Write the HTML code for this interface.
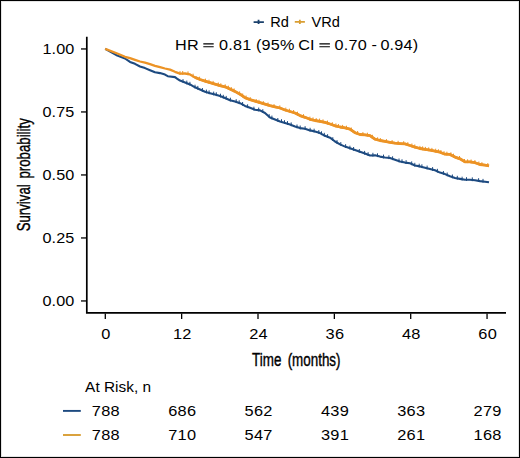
<!DOCTYPE html>
<html><head><meta charset="utf-8"><style>
html,body{margin:0;padding:0;background:#fff;}
.wrap{position:relative;width:520px;height:458px;box-sizing:border-box;border:1px solid #000;overflow:hidden;background:#fff;box-shadow:inset 0 0 0 1px #e4e4e4;}
svg{position:absolute;left:-1px;top:-1px;}
.t{font-family:"Liberation Sans",sans-serif;font-size:14.6px;fill:#000;}
.ty{font-family:"Liberation Sans",sans-serif;font-size:15.3px;letter-spacing:0.1px;fill:#000;}
.tx{font-family:"Liberation Sans",sans-serif;font-size:15.1px;letter-spacing:0.15px;fill:#000;}
.th{font-family:"Liberation Sans",sans-serif;font-size:15.3px;letter-spacing:0.2px;fill:#000;}
.tr{font-family:"Liberation Sans",sans-serif;font-size:15.3px;letter-spacing:0.25px;fill:#000;}
.ta{font-family:"Liberation Sans",sans-serif;font-size:14.9px;fill:#000;}
.ti{font-family:"Liberation Sans",sans-serif;font-size:18.5px;fill:#000;stroke:#000;stroke-width:0.4px;}
</style></head><body><div class="wrap">
<svg width="520" height="458" viewBox="0 0 520 458">
<path d="M86.8,36.8 V312.9 H506" fill="none" stroke="#000" stroke-width="1.7"/>
<path d="M81,48.95 H86" stroke="#000" stroke-width="1.3"/>
<path d="M81,111.95 H86" stroke="#000" stroke-width="1.3"/>
<path d="M81,174.95 H86" stroke="#000" stroke-width="1.3"/>
<path d="M81,237.95 H86" stroke="#000" stroke-width="1.3"/>
<path d="M81,300.95 H86" stroke="#000" stroke-width="1.3"/>
<path d="M105.30,313.5 V319" stroke="#000" stroke-width="1.3"/>
<path d="M181.65,313.5 V319" stroke="#000" stroke-width="1.3"/>
<path d="M258.00,313.5 V319" stroke="#000" stroke-width="1.3"/>
<path d="M334.35,313.5 V319" stroke="#000" stroke-width="1.3"/>
<path d="M410.70,313.5 V319" stroke="#000" stroke-width="1.3"/>
<path d="M487.05,313.5 V319" stroke="#000" stroke-width="1.3"/>
<text transform="translate(74.4,53.95) scale(1.06,1)" text-anchor="end" class="ty">1.00</text>
<text transform="translate(74.4,116.95) scale(1.06,1)" text-anchor="end" class="ty">0.75</text>
<text transform="translate(74.4,179.95) scale(1.06,1)" text-anchor="end" class="ty">0.50</text>
<text transform="translate(74.4,242.95) scale(1.06,1)" text-anchor="end" class="ty">0.25</text>
<text transform="translate(74.4,305.95) scale(1.06,1)" text-anchor="end" class="ty">0.00</text>
<text transform="translate(105.90,338.8) scale(1.07,1)" text-anchor="middle" class="tr">0</text>
<text transform="translate(182.25,338.8) scale(1.07,1)" text-anchor="middle" class="tr">12</text>
<text transform="translate(258.60,338.8) scale(1.07,1)" text-anchor="middle" class="tr">24</text>
<text transform="translate(334.95,338.8) scale(1.07,1)" text-anchor="middle" class="tr">36</text>
<text transform="translate(411.30,338.8) scale(1.07,1)" text-anchor="middle" class="tr">48</text>
<text transform="translate(487.65,338.8) scale(1.07,1)" text-anchor="middle" class="tr">60</text>
<polyline points="105.2,48.9 117.3,55.6 125.0,58.5 130.0,61.9 135.0,63.8 140.0,66.5 145.0,68.1 150.0,70.2 155.0,72.3 160.0,73.1 165.0,74.6 167.7,76.2 175.0,77.1 177.0,78.6 180.0,80.6 185.0,82.5 190.0,84.4 195.0,87.3 200.0,89.5 205.0,91.8 210.0,93.2 215.0,94.5 220.0,96.1 225.0,98.0 230.0,100.2 235.0,101.4 240.0,103.2 245.0,105.9 250.0,107.8 255.0,109.7 260.0,110.4 265.0,113.0 270.0,117.5 275.0,119.5 280.0,121.4 285.0,122.9 290.0,124.5 295.0,126.4 300.0,128.1 305.0,128.8 310.0,130.4 315.0,131.5 320.0,133.1 325.0,135.8 330.0,137.7 335.0,141.5 340.0,144.4 345.0,146.6 350.0,148.3 355.0,150.1 360.0,151.8 365.0,153.6 370.0,155.5 375.0,155.3 380.0,156.6 385.0,157.5 390.0,158.0 395.0,159.7 400.0,161.4 405.0,162.6 410.0,163.3 415.0,165.5 420.0,166.4 425.0,167.7 430.0,169.0 435.0,170.3 440.0,172.6 445.0,174.1 450.0,176.3 455.0,178.0 460.0,178.9 465.0,179.8 470.0,179.8 475.0,180.2 480.0,181.1 485.0,181.7 489.0,182.3" fill="none" stroke="#1d4a80" stroke-width="2.1" stroke-linejoin="round" stroke-linecap="butt"/>
<path d="M183.0,79.1V82.9M186.8,80.6V84.4M189.9,81.8V85.6M195.0,84.7V88.5M197.8,85.9V89.7M202.4,88.0V91.8M206.4,89.6V93.4M209.1,90.4V94.2M213.7,91.6V95.4M216.3,92.3V96.1M220.5,93.7V97.5M223.3,94.8V98.6M226.2,95.9V99.7M230.4,97.7V101.5M236.2,99.2V103.0M239.2,100.3V104.1M242.6,102.0V105.8M247.6,104.3V108.1M253.9,106.7V110.5M258.7,107.6V111.4M262.8,109.2V113.0M269.2,114.2V118.0M271.9,115.6V119.4M277.8,118.0V121.8M281.5,119.2V123.0M284.5,120.2V124.0M287.5,121.1V124.9M291.2,122.4V126.2M297.0,124.5V128.3M300.2,125.5V129.3M305.1,126.2V130.0M310.1,127.8V131.6M314.1,128.7V132.5M318.8,130.1V133.9M321.5,131.3V135.1M324.3,132.8V136.6M327.6,134.2V138.0M332.8,137.2V141.0M337.0,140.1V143.9M340.8,142.1V145.9M345.6,144.2V148.0M349.9,145.7V149.5M353.6,147.0V150.8M359.3,149.0V152.8M364.6,150.9V154.7M368.1,152.2V156.0M372.9,152.8V156.6M377.5,153.3V157.1M383.5,154.6V158.4M388.9,155.3V159.1M392.6,156.3V160.1M399.0,158.5V162.3M402.0,159.3V163.1M406.1,160.2V164.0M411.7,161.4V165.2M414.8,162.8V166.6M419.2,163.7V167.5M421.9,164.3V168.1M427.1,165.6V169.4M432.6,167.1V170.9M437.4,168.8V172.6M443.4,171.0V174.8M447.2,172.5V176.3M452.4,174.5V178.3M457.3,175.8V179.6M462.1,176.7V180.5M466.5,177.2V181.0M472.3,177.4V181.2M478.6,178.2V182.0M483.0,178.9V182.7" stroke="#1d4a80" stroke-width="1" fill="none"/>
<polyline points="105.2,48.9 117.3,53.5 125.0,56.8 130.0,58.1 135.0,59.8 140.0,61.5 145.0,62.7 150.0,64.2 155.0,65.8 160.0,67.2 165.0,68.5 170.0,69.6 175.0,71.8 180.0,73.7 185.0,73.5 190.0,74.4 195.0,77.4 200.0,79.5 205.0,81.1 210.0,82.6 215.0,84.1 220.0,85.7 225.0,86.8 230.0,89.1 235.0,91.4 240.0,94.2 245.0,97.7 250.0,99.6 255.0,101.2 260.0,102.7 265.0,104.2 270.0,105.7 275.0,106.9 280.0,108.0 285.0,110.0 290.0,111.5 295.0,113.0 300.0,115.6 305.0,117.3 310.0,119.3 315.0,120.5 320.0,121.3 325.0,122.4 330.0,124.0 335.0,125.8 340.0,127.0 345.0,127.9 350.0,129.2 355.0,132.7 360.0,134.5 365.0,134.9 370.0,135.7 375.0,139.2 380.0,140.5 385.0,141.4 390.0,142.3 395.0,143.2 400.0,143.6 405.0,143.9 410.0,145.5 415.0,147.2 420.0,148.5 425.0,149.4 430.0,150.2 435.0,151.1 440.0,152.2 445.0,154.2 450.0,154.4 455.0,157.1 460.0,158.8 465.0,161.9 470.0,161.9 475.0,162.7 480.0,164.5 485.0,165.2 489.0,165.9" fill="none" stroke="#ec9325" stroke-width="2.3" stroke-linejoin="round" stroke-linecap="butt"/>
<polyline points="195.0,77.4 200.0,79.5 205.0,81.1 210.0,82.6 215.0,84.1 220.0,85.7 225.0,86.8 230.0,89.1 235.0,91.4 240.0,94.2 245.0,97.7 250.0,99.6 255.0,101.2 260.0,102.7 265.0,104.2 270.0,105.7 275.0,106.9 280.0,108.0 285.0,110.0 290.0,111.5 295.0,113.0 300.0,115.6 305.0,117.3 310.0,119.3 315.0,120.5 320.0,121.3 325.0,122.4 330.0,124.0 335.0,125.8 340.0,127.0 345.0,127.9 350.0,129.2 355.0,132.7 360.0,134.5 365.0,134.9 370.0,135.7 375.0,139.2 380.0,140.5 385.0,141.4 390.0,142.3 395.0,143.2 400.0,143.6 405.0,143.9 410.0,145.5 415.0,147.2 420.0,148.5 425.0,149.4 430.0,150.2 435.0,151.1 440.0,152.2 445.0,154.2 450.0,154.4 455.0,157.1 460.0,158.8 465.0,161.9 470.0,161.9 475.0,162.7 480.0,164.5 485.0,165.2 489.0,165.9" fill="none" stroke="#ec9325" stroke-width="2.8" stroke-linejoin="round" stroke-linecap="butt"/>
<path d="M180.0,71.1V74.9M182.7,71.0V74.8M188.0,71.4V75.2M193.1,73.7V77.5M199.6,76.7V80.5M205.4,78.6V82.4M209.0,79.7V83.5M213.1,80.9V84.7M218.3,82.5V86.3M220.8,83.3V87.1M225.2,84.3V88.1M228.4,85.7V89.5M231.3,87.1V90.9M234.1,88.4V92.2M239.6,91.4V95.2M242.7,93.5V97.3M246.1,95.5V99.3M250.2,97.1V100.9M256.2,99.0V102.8M259.0,99.8V103.6M263.3,101.1V104.9M268.0,102.5V106.3M274.0,104.1V107.9M279.8,105.4V109.2M285.8,107.6V111.4M289.4,108.7V112.5M293.6,110.0V113.8M297.5,111.7V115.5M303.5,114.2V118.0M309.9,116.6V120.4M313.0,117.4V121.2M316.2,118.1V121.9M319.6,118.6V122.4M323.0,119.4V123.2M327.5,120.6V124.4M332.3,122.2V126.0M335.9,123.4V127.2M338.4,124.0V127.8M342.6,124.9V128.7M346.5,125.7V129.5M351.3,127.5V131.3M357.6,131.0V134.8M362.9,132.1V135.9M367.4,132.7V136.5M372.4,134.8V138.6M377.6,137.3V141.1M380.3,138.0V141.8M386.4,139.1V142.9M392.1,140.1V143.9M398.1,140.8V144.6M403.7,141.2V145.0M407.8,142.2V146.0M411.9,143.5V147.3M414.8,144.5V148.3M419.9,145.9V149.7M422.6,146.4V150.2M425.4,146.9V150.7M428.7,147.4V151.2M431.9,147.9V151.7M435.7,148.7V152.5M438.4,149.3V153.1M440.9,150.0V153.8M444.0,151.2V155.0M446.9,151.7V155.5M450.9,152.3V156.1M453.5,153.7V157.5M459.5,156.0V159.8M464.5,159.0V162.8M467.6,159.3V163.1M471.1,159.5V163.3M474.9,160.1V163.9M478.9,161.5V165.3M481.9,162.2V166.0M487.8,163.1V166.9" stroke="#ec9325" stroke-width="1" fill="none"/>
<path d="M253.6,22.05 H263.9 M258.55,19.8 V24.1" stroke="#1b416c" stroke-width="1.8"/>
<text x="270.3" y="26.6" class="t">Rd</text>
<path d="M294.8,21.95 H304.9 M299.85,19.7 V24.1" stroke="#d99e33" stroke-width="1.8"/>
<text x="311.6" y="26.6" class="t">VRd</text>
<text transform="translate(175,49.6) scale(1.06,1)" class="th">HR</text>
<path d="M203.3,43.85 H213.7 M203.3,46.75 H213.7" stroke="#000" stroke-width="1.15"/>
<text transform="translate(219,49.6) scale(1.06,1)" class="th">0.81</text>
<text transform="translate(255.9,49.6) scale(1.06,1)" class="th">(95%</text>
<text transform="translate(298.2,49.6) scale(1.06,1)" class="th">CI</text>
<path d="M319.4,43.85 H329.9 M319.4,46.75 H329.9" stroke="#000" stroke-width="1.15"/>
<text transform="translate(334.5,49.6) scale(1.06,1)" class="th">0.70 -</text>
<text transform="translate(380.4,49.6) scale(1.06,1)" class="th">0.94)</text>
<text transform="translate(296.3,366.4) scale(0.725,1)" text-anchor="middle" class="ti" word-spacing="3.5">Time (months)</text>
<text transform="translate(30,174.8) rotate(-90) scale(0.715,1)" text-anchor="middle" class="ti" word-spacing="3">Survival probability</text>
<text transform="translate(85.1,391.7) scale(1.035,1)" class="ta">At Risk, n</text>
<path d="M63,410.9 H80.8" stroke="#1d4a80" stroke-width="1.9"/>
<path d="M63,435 H80.8" stroke="#d99e33" stroke-width="1.9"/>
<text transform="translate(105.90,415.6) scale(1.07,1)" text-anchor="middle" class="tr">788</text>
<text transform="translate(105.90,439.8) scale(1.07,1)" text-anchor="middle" class="tr">788</text>
<text transform="translate(182.25,415.6) scale(1.07,1)" text-anchor="middle" class="tr">686</text>
<text transform="translate(182.25,439.8) scale(1.07,1)" text-anchor="middle" class="tr">710</text>
<text transform="translate(258.60,415.6) scale(1.07,1)" text-anchor="middle" class="tr">562</text>
<text transform="translate(258.60,439.8) scale(1.07,1)" text-anchor="middle" class="tr">547</text>
<text transform="translate(334.95,415.6) scale(1.07,1)" text-anchor="middle" class="tr">439</text>
<text transform="translate(334.95,439.8) scale(1.07,1)" text-anchor="middle" class="tr">391</text>
<text transform="translate(411.30,415.6) scale(1.07,1)" text-anchor="middle" class="tr">363</text>
<text transform="translate(411.30,439.8) scale(1.07,1)" text-anchor="middle" class="tr">261</text>
<text transform="translate(487.65,415.6) scale(1.07,1)" text-anchor="middle" class="tr">279</text>
<text transform="translate(487.65,439.8) scale(1.07,1)" text-anchor="middle" class="tr">168</text>
</svg></div></body></html>
